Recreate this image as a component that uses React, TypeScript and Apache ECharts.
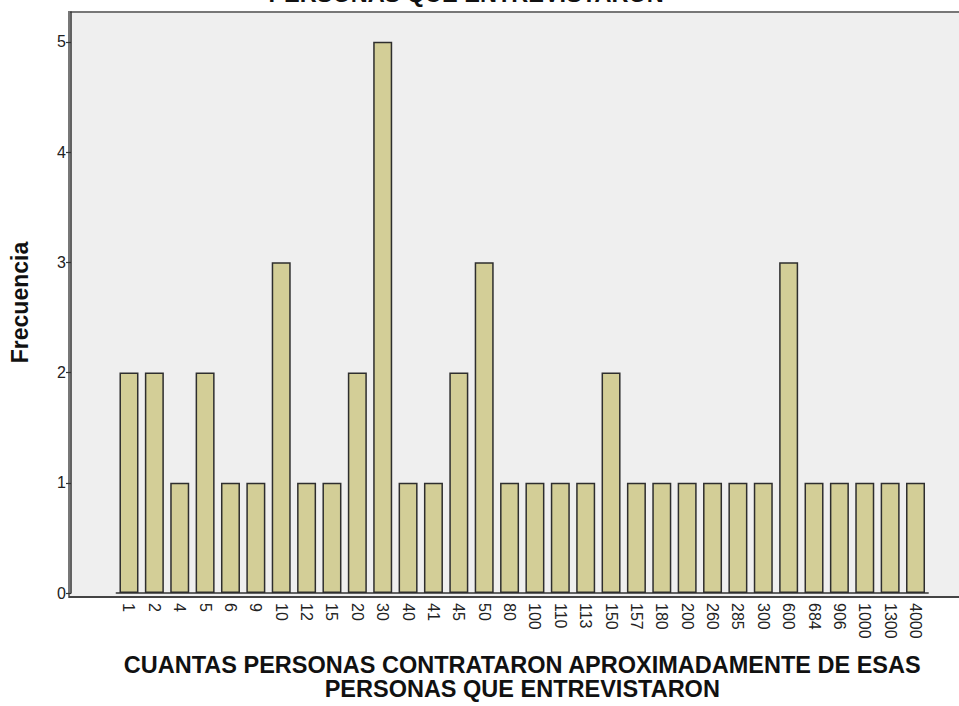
import React, { useEffect, useRef } from "react";
import * as echarts from "echarts";

const categories = ["1", "2", "4", "5", "6", "9", "10", "12", "15", "20", "30", "40", "41", "45", "50", "80", "100", "110", "113", "150", "157", "180", "200", "260", "285", "300", "600", "684", "906", "1000", "1300", "4000"];
const frequencies = [2, 2, 1, 2, 1, 1, 3, 1, 1, 2, 5, 1, 1, 2, 3, 1, 1, 1, 1, 2, 1, 1, 1, 1, 1, 1, 3, 1, 1, 1, 1, 1];
const yTicks = [0, 1, 2, 3, 4, 5];
const xTitle = "CUANTAS PERSONAS CONTRATARON APROXIMADAMENTE DE ESAS\nPERSONAS QUE ENTREVISTARON";
const yTitle = "Frecuencia";
const chartTitleTail = "PERSONAS QUE ENTREVISTARON";

const FONT = "'Liberation Sans', Arial, sans-serif";

export default function App() {
  const ref = useRef<HTMLDivElement>(null);
  useEffect(() => {
    if (!ref.current) return;
    const chart = echarts.init(ref.current, undefined, { renderer: "svg" });
    chart.setOption({
      animation: false,
      backgroundColor: "#ffffff",
      textStyle: { fontFamily: FONT },
      grid: { left: 114.3, right: 30.8, top: 12, bottom: 109, containLabel: false },
      graphic: [
        {
          type: "rect",
          z: -10,
          shape: { x: 69, y: 12, width: 960, height: 585 },
          style: { fill: "#efefef", stroke: "#777777", lineWidth: 2 },
          silent: true,
        },
        {
          type: "line",
          z: 1,
          shape: { x1: 69, y1: 597, x2: 960, y2: 597 },
          style: { stroke: "#333333", lineWidth: 1.5 },
          silent: true,
        },
        {
          type: "text",
          x: 466,
          y: -6,
          style: {
            text: chartTitleTail,
            fontFamily: FONT,
            fontWeight: "bold",
            fontSize: 23.5,
            fill: "#111111",
            align: "center",
            verticalAlign: "middle",
          },
          silent: true,
        },
      ],
      xAxis: {
        type: "category",
        data: categories,
        axisLine: { lineStyle: { color: "#333333", width: 1.5 } },
        axisTick: { alignWithLabel: true, length: 5, lineStyle: { color: "#333333", width: 1.2 } },
        axisLabel: {
          interval: 0,
          rotate: -90,
          fontSize: 16,
          color: "#222222",
          margin: 10,
          fontFamily: FONT,
        },
        name: xTitle,
        nameLocation: "middle",
        nameGap: 60,
        nameTextStyle: {
          fontSize: 23.5,
          fontWeight: "bold",
          lineHeight: 24,
          color: "#111111",
          fontFamily: FONT,
        },
      },
      yAxis: {
        type: "value",
        min: 0,
        max: 5.27,
        offset: 45.3,
        splitLine: { show: false },
        axisLine: { show: true, lineStyle: { color: "#333333", width: 1.5 } },
        axisTick: { show: true, length: 5, customValues: yTicks, lineStyle: { color: "#333333", width: 1.2 } },
        axisLabel: { customValues: yTicks, fontSize: 16, color: "#222222", margin: 5, fontFamily: FONT },
        name: yTitle,
        nameLocation: "middle",
        nameGap: 40,
        nameTextStyle: { fontSize: 23, fontWeight: "bold", color: "#111111", fontFamily: FONT },
      },
      series: [
        {
          type: "bar",
          data: frequencies,
          barWidth: 19,
          itemStyle: { color: "#d3ce97", borderColor: "#2e2e2e", borderWidth: 1.5 },
        },
      ],
    });
    return () => chart.dispose();
  }, []);
  return <div ref={ref} style={{ position: "fixed", left: 0, top: 0, width: 959, height: 706 }} />;
}
